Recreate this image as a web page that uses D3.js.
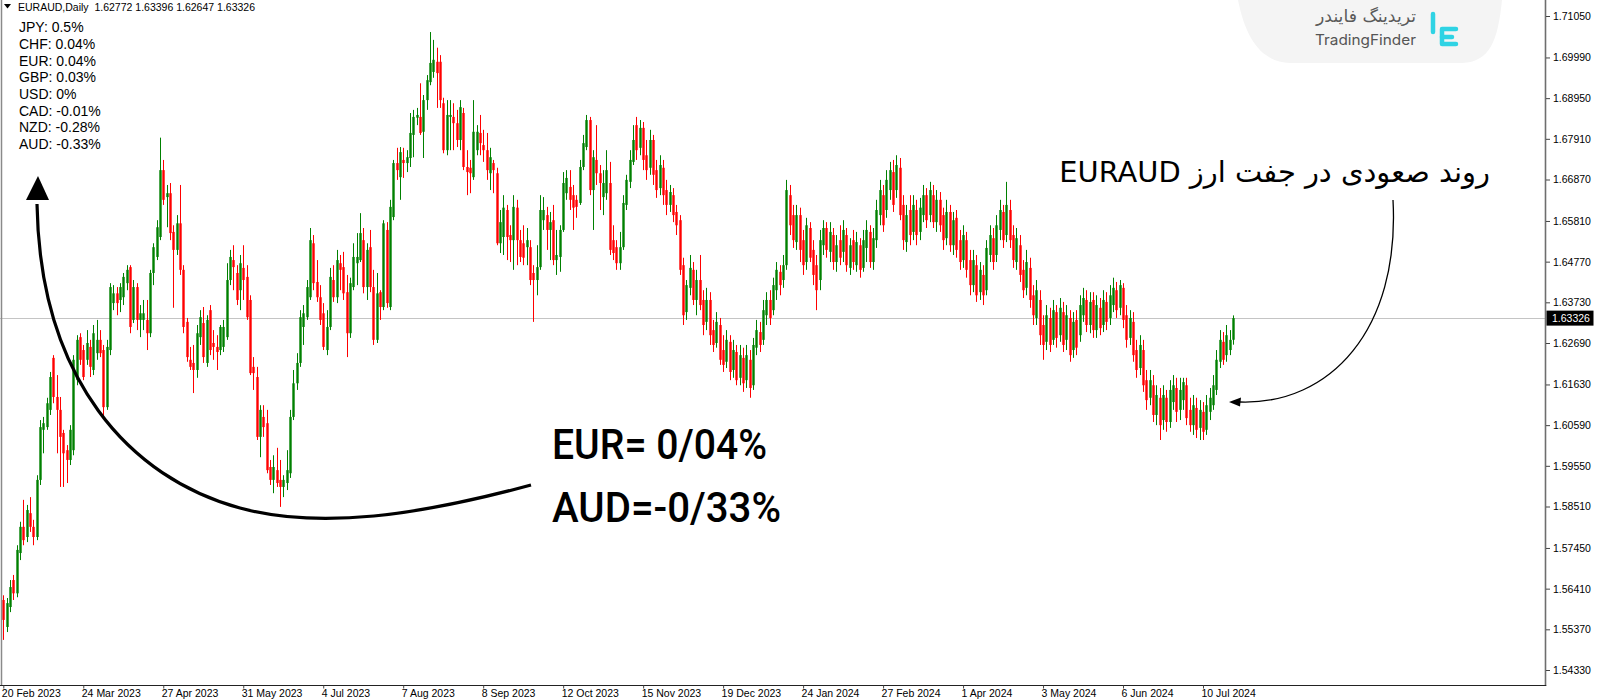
<!DOCTYPE html>
<html><head><meta charset="utf-8">
<script src="https://cdn.jsdelivr.net/npm/d3@7"></script>
<style>body{margin:0;background:#fff}svg{display:block}</style>
</head><body>
<svg id="c" width="1600" height="700"></svg>
<script>
// ---- data (EURAUD daily, 20 Feb 2023 .. Jul 2024) ----
const opens=[
1.5612,1.5543,1.5594,1.5663,1.5629,1.5732,1.5799,1.5773,1.5834,1.5799,
1.5773,1.5919,1.6047,1.6054,1.6098,1.6231,1.6131,1.6098,1.6039,1.5995,
1.5970,1.5995,1.6174,1.6284,1.6251,1.6226,1.6259,1.6200,1.6243,1.6277,
1.6251,1.6105,1.6251,1.6371,1.6396,1.6379,1.6386,1.6422,1.6463,1.6328,
1.6412,1.6328,1.6328,1.6328,1.6294,1.6448,1.6489,1.6540,1.6711,1.6642,
1.6652,1.6553,1.6507,1.6575,1.6456,1.6323,1.6226,1.6218,1.6200,1.6284,
1.6320,1.6218,1.6353,1.6269,1.6259,1.6251,1.6259,1.6284,1.6430,1.6481,
1.6448,1.6404,1.6461,1.6438,1.6379,1.6208,1.6182,1.6029,1.6080,1.6064,
1.5952,1.5919,1.5944,1.5919,1.5901,1.5911,1.5936,1.6080,1.6166,1.6218,
1.6310,1.6335,1.6386,1.6524,1.6425,1.6386,1.6345,1.6251,1.6310,1.6430,
1.6386,1.6473,1.6463,1.6399,1.6294,1.6412,1.6473,1.6481,1.6532,1.6412,
1.6514,1.6412,1.6277,1.6399,1.6361,1.6558,1.6361,1.6591,1.6729,1.6693,
1.6737,1.6729,1.6742,1.6801,1.6845,1.6847,1.6809,1.6890,1.6936,1.6962,
1.6988,1.6988,1.6882,1.6762,1.6847,1.6847,1.6831,1.6788,1.6857,1.6719,
1.6717,1.6693,1.6762,1.6806,1.6775,1.6762,1.6703,1.6729,1.6703,1.6524,
1.6540,1.6609,1.6545,1.6532,1.6615,1.6532,1.6524,1.6514,1.6514,1.6448,
1.6430,1.6463,1.6583,1.6596,1.6558,1.6583,1.6481,1.6489,1.6558,1.6652,
1.6668,1.6647,1.6635,1.6627,1.6719,1.6770,1.6839,1.6660,1.6737,1.6703,
1.6642,1.6652,1.6678,1.6532,1.6514,1.6473,1.6514,1.6622,1.6681,1.6732,
1.6826,1.6768,1.6819,1.6749,1.6717,1.6788,1.6711,1.6665,1.6717,1.6660,
1.6622,1.6647,1.6604,1.6583,1.6468,1.6348,1.6410,1.6456,1.6379,1.6430,
1.6379,1.6323,1.6379,1.6302,1.6269,1.6315,1.6251,1.6221,1.6272,1.6200,
1.6246,1.6180,1.6231,1.6174,1.6226,1.6161,1.6257,1.6297,1.6277,1.6340,
1.6379,1.6353,1.6404,1.6451,1.6430,1.6468,1.6647,1.6596,1.6527,1.6596,
1.6532,1.6476,1.6563,1.6507,1.6468,1.6430,1.6519,1.6563,1.6502,1.6545,
1.6476,1.6532,1.6502,1.6545,1.6461,1.6532,1.6468,1.6519,1.6461,1.6512,
1.6553,1.6476,1.6532,1.6596,1.6647,1.6609,1.6660,1.6706,1.6660,1.6717,
1.6622,1.6527,1.6609,1.6553,1.6609,1.6553,1.6596,1.6647,1.6596,1.6647,
1.6578,1.6635,1.6596,1.6537,1.6604,1.6519,1.6589,1.6532,1.6481,1.6532,
1.6481,1.6417,1.6468,1.6399,1.6443,1.6404,1.6494,1.6537,1.6494,1.6558,
1.6604,1.6545,1.6609,1.6545,1.6476,1.6519,1.6456,1.6410,1.6461,1.6391,
1.6333,1.6379,1.6315,1.6272,1.6333,1.6277,1.6348,1.6289,1.6348,1.6277,
1.6333,1.6251,1.6328,1.6289,1.6340,1.6379,1.6315,1.6379,1.6302,1.6359,
1.6315,1.6374,1.6333,1.6366,1.6404,1.6359,1.6410,1.6340,1.6282,1.6323,
1.6251,1.6205,1.6251,1.6174,1.6129,1.6161,1.6085,1.6129,1.6072,1.6129,
1.6067,1.6118,1.6154,1.6098,1.6123,1.6161,1.6098,1.6059,1.6103,1.6052,
1.6093,1.6047,1.6093,1.6110,1.6149,1.6221,1.6272,1.6238,1.6251,1.62772];
const highs=[
1.5624,1.5617,1.5663,1.5676,1.5752,1.5812,1.5868,1.5855,1.5875,1.5817,
1.5931,1.6072,1.6080,1.6129,1.6195,1.6238,1.6187,1.6131,1.6047,1.6008,
1.6059,1.6238,1.6289,1.6294,1.6264,1.6302,1.6277,1.6315,1.6328,1.6302,
1.6264,1.6277,1.6422,1.6417,1.6412,1.6422,1.6448,1.6468,1.6468,1.6430,
1.6422,1.6366,1.6379,1.6379,1.6456,1.6524,1.6583,1.6794,1.6737,1.6673,
1.6678,1.6570,1.6596,1.6673,1.6468,1.6333,1.6259,1.6264,1.6315,1.6353,
1.6361,1.6340,1.6366,1.6302,1.6289,1.6315,1.6328,1.6473,1.6507,1.6519,
1.6468,1.6494,1.6519,1.6468,1.6391,1.6233,1.6208,1.6110,1.6110,1.6098,
1.5970,1.5982,1.6001,1.5970,1.5931,1.5995,1.6098,1.6200,1.6243,1.6353,
1.6366,1.6430,1.6563,1.6545,1.6481,1.6417,1.6371,1.6353,1.6461,1.6468,
1.6507,1.6494,1.6502,1.6443,1.6436,1.6524,1.6550,1.6601,1.6563,1.6524,
1.6558,1.6456,1.6448,1.6404,1.6583,1.6578,1.6635,1.6737,1.6768,1.6770,
1.6768,1.6762,1.6857,1.6865,1.6870,1.6933,1.6903,1.6954,1.7064,1.7044,
1.7024,1.7005,1.6896,1.6890,1.6890,1.6882,1.6865,1.6890,1.6870,1.6762,
1.6737,1.6890,1.6826,1.6852,1.6814,1.6806,1.6768,1.6737,1.6717,1.6609,
1.6647,1.6622,1.6570,1.6647,1.6635,1.6558,1.6570,1.6563,1.6532,1.6468,
1.6519,1.6647,1.6642,1.6617,1.6604,1.6622,1.6558,1.6570,1.6706,1.6711,
1.6711,1.6673,1.6647,1.6737,1.6801,1.6852,1.6847,1.6762,1.6826,1.6724,
1.6711,1.6762,1.6732,1.6570,1.6532,1.6553,1.6647,1.6699,1.6762,1.6826,
1.6847,1.6839,1.6834,1.6788,1.6814,1.6801,1.6737,1.6749,1.6737,1.6686,
1.6673,1.6665,1.6622,1.6596,1.6487,1.6430,1.6494,1.6476,1.6456,1.6494,
1.6404,1.6410,1.6399,1.6328,1.6348,1.6333,1.6289,1.6302,1.6289,1.6277,
1.6264,1.6264,1.6257,1.6264,1.6251,1.6282,1.6328,1.6323,1.6379,1.6399,
1.6404,1.6436,1.6476,1.6468,1.6494,1.6686,1.6673,1.6622,1.6622,1.6615,
1.6558,1.6589,1.6578,1.6532,1.6494,1.6558,1.6583,1.6578,1.6578,1.6563,
1.6545,1.6570,1.6583,1.6563,1.6537,1.6558,1.6553,1.6537,1.6558,1.6583,
1.6570,1.6563,1.6635,1.6686,1.6673,1.6711,1.6732,1.6737,1.6749,1.6742,
1.6647,1.6622,1.6647,1.6647,1.6635,1.6640,1.6673,1.6665,1.6681,1.6673,
1.6660,1.6655,1.6615,1.6635,1.6622,1.6604,1.6609,1.6558,1.6570,1.6553,
1.6507,1.6507,1.6494,1.6476,1.6468,1.6532,1.6570,1.6563,1.6596,1.6635,
1.6622,1.6681,1.6635,1.6570,1.6563,1.6545,1.6481,1.6507,1.6487,1.6417,
1.6430,1.6404,1.6340,1.6366,1.6359,1.6379,1.6366,1.6384,1.6374,1.6366,
1.6353,1.6348,1.6353,1.6391,1.6410,1.6404,1.6399,1.6399,1.6391,1.6384,
1.6404,1.6399,1.6417,1.6436,1.6425,1.6430,1.6422,1.6366,1.6353,1.6348,
1.6277,1.6289,1.6277,1.6200,1.6200,1.6187,1.6161,1.6154,1.6161,1.6149,
1.6174,1.6187,1.6180,1.6180,1.6180,1.6180,1.6129,1.6136,1.6129,1.6123,
1.6118,1.6136,1.6154,1.6187,1.6251,1.6302,1.6297,1.6315,1.6302,1.63396];
const lows=[
1.5510,1.5530,1.5581,1.5612,1.5619,1.5714,1.5752,1.5760,1.5786,1.5752,
1.5765,1.5906,1.5987,1.6047,1.6085,1.6115,1.5987,1.5901,1.5901,1.5911,
1.5957,1.5982,1.6161,1.6213,1.6174,1.6213,1.6182,1.6187,1.6226,1.6233,
1.6080,1.6098,1.6238,1.6353,1.6340,1.6348,1.6366,1.6404,1.6294,1.6320,
1.6302,1.6284,1.6302,1.6251,1.6284,1.6417,1.6481,1.6532,1.6622,1.6565,
1.6532,1.6359,1.6494,1.6443,1.6294,1.6221,1.6200,1.6141,1.6180,1.6264,
1.6218,1.6208,1.6238,1.6226,1.6200,1.6238,1.6246,1.6277,1.6417,1.6404,
1.6366,1.6353,1.6379,1.6328,1.6187,1.6149,1.6021,1.5977,1.6029,1.5936,
1.5906,1.5885,1.5901,1.5850,1.5875,1.5893,1.5924,1.6072,1.6149,1.6208,
1.6264,1.6328,1.6379,1.6404,1.6374,1.6315,1.6251,1.6238,1.6302,1.6374,
1.6371,1.6404,1.6379,1.6233,1.6282,1.6404,1.6417,1.6476,1.6396,1.6379,
1.6399,1.6264,1.6269,1.6328,1.6353,1.6359,1.6353,1.6583,1.6686,1.6635,
1.6691,1.6706,1.6719,1.6744,1.6826,1.6801,1.6742,1.6865,1.6928,1.6947,
1.6870,1.6870,1.6754,1.6749,1.6762,1.6762,1.6770,1.6762,1.6711,1.6647,
1.6652,1.6686,1.6749,1.6749,1.6732,1.6686,1.6660,1.6652,1.6519,1.6499,
1.6494,1.6481,1.6476,1.6456,1.6468,1.6476,1.6468,1.6468,1.6417,1.6323,
1.6391,1.6456,1.6558,1.6507,1.6481,1.6468,1.6443,1.6451,1.6553,1.6635,
1.6609,1.6558,1.6589,1.6622,1.6711,1.6762,1.6647,1.6558,1.6673,1.6609,
1.6596,1.6635,1.6494,1.6481,1.6456,1.6456,1.6507,1.6609,1.6665,1.6724,
1.6737,1.6749,1.6711,1.6686,1.6699,1.6673,1.6640,1.6647,1.6622,1.6596,
1.6604,1.6578,1.6545,1.6443,1.6315,1.6328,1.6391,1.6366,1.6340,1.6353,
1.6289,1.6302,1.6264,1.6246,1.6257,1.6213,1.6195,1.6205,1.6174,1.6180,
1.6161,1.6161,1.6144,1.6154,1.6129,1.6149,1.6238,1.6246,1.6264,1.6315,
1.6315,1.6340,1.6379,1.6391,1.6410,1.6456,1.6545,1.6512,1.6507,1.6476,
1.6443,1.6456,1.6476,1.6417,1.6353,1.6404,1.6494,1.6487,1.6476,1.6456,
1.6451,1.6468,1.6476,1.6451,1.6443,1.6456,1.6451,1.6436,1.6451,1.6476,
1.6461,1.6456,1.6512,1.6570,1.6553,1.6589,1.6635,1.6604,1.6640,1.6583,
1.6507,1.6502,1.6519,1.6532,1.6519,1.6532,1.6578,1.6563,1.6578,1.6563,
1.6553,1.6553,1.6507,1.6519,1.6502,1.6494,1.6487,1.6456,1.6461,1.6436,
1.6391,1.6399,1.6374,1.6379,1.6366,1.6391,1.6476,1.6456,1.6476,1.6532,
1.6512,1.6527,1.6512,1.6461,1.6456,1.6425,1.6384,1.6391,1.6359,1.6315,
1.6315,1.6264,1.6226,1.6251,1.6246,1.6264,1.6257,1.6272,1.6246,1.6251,
1.6221,1.6231,1.6238,1.6272,1.6323,1.6297,1.6294,1.6282,1.6282,1.6289,
1.6297,1.6302,1.6315,1.6348,1.6333,1.6340,1.6307,1.6257,1.6264,1.6221,
1.6180,1.6187,1.6144,1.6098,1.6110,1.6067,1.6059,1.6021,1.6047,1.6042,
1.6052,1.6098,1.6067,1.6072,1.6098,1.6059,1.6042,1.6034,1.6026,1.6021,
1.6021,1.6034,1.6072,1.6098,1.6136,1.6205,1.6213,1.6221,1.6238,1.62647];
const closes=[
1.5561,1.5604,1.5645,1.5629,1.5740,1.5799,1.5765,1.5842,1.5799,1.5773,
1.5919,1.6054,1.6064,1.6115,1.6182,1.6131,1.6098,1.6029,1.5987,1.5970,
1.6047,1.6226,1.6277,1.6226,1.6182,1.6269,1.6208,1.6294,1.6277,1.6243,
1.6105,1.6259,1.6412,1.6396,1.6371,1.6412,1.6438,1.6456,1.6310,1.6412,
1.6328,1.6345,1.6345,1.6294,1.6448,1.6514,1.6565,1.6711,1.6635,1.6652,
1.6550,1.6507,1.6575,1.6456,1.6310,1.6233,1.6208,1.6200,1.6294,1.6335,
1.6233,1.6328,1.6251,1.6259,1.6246,1.6310,1.6310,1.6430,1.6489,1.6463,
1.6379,1.6473,1.6430,1.6335,1.6192,1.6192,1.6029,1.6098,1.6054,1.5944,
1.5919,1.5952,1.5911,1.5901,1.5919,1.5944,1.6080,1.6166,1.6218,1.6335,
1.6345,1.6412,1.6532,1.6422,1.6386,1.6328,1.6259,1.6310,1.6438,1.6386,
1.6481,1.6456,1.6396,1.6294,1.6422,1.6489,1.6489,1.6550,1.6412,1.6507,
1.6412,1.6277,1.6396,1.6361,1.6575,1.6371,1.6617,1.6729,1.6711,1.6757,
1.6729,1.6744,1.6806,1.6847,1.6852,1.6806,1.6890,1.6941,1.6985,1.6993,
1.6959,1.6890,1.6762,1.6852,1.6852,1.6831,1.6788,1.6872,1.6719,1.6706,
1.6703,1.6809,1.6809,1.6780,1.6762,1.6711,1.6744,1.6711,1.6524,1.6578,
1.6615,1.6540,1.6532,1.6617,1.6532,1.6489,1.6487,1.6532,1.6430,1.6430,
1.6463,1.6609,1.6609,1.6558,1.6578,1.6481,1.6494,1.6558,1.6678,1.6691,
1.6635,1.6615,1.6617,1.6719,1.6780,1.6839,1.6660,1.6744,1.6703,1.6678,
1.6678,1.6711,1.6507,1.6499,1.6473,1.6514,1.6627,1.6686,1.6737,1.6788,
1.6762,1.6819,1.6737,1.6711,1.6788,1.6699,1.6660,1.6724,1.6647,1.6622,
1.6655,1.6596,1.6570,1.6456,1.6340,1.6417,1.6461,1.6379,1.6430,1.6366,
1.6315,1.6379,1.6289,1.6264,1.6323,1.6226,1.6213,1.6277,1.6195,1.6251,
1.6174,1.6238,1.6166,1.6238,1.6154,1.6264,1.6302,1.6264,1.6353,1.6379,
1.6333,1.6417,1.6456,1.6417,1.6468,1.6660,1.6570,1.6532,1.6596,1.6507,
1.6468,1.6570,1.6487,1.6443,1.6404,1.6532,1.6563,1.6507,1.6553,1.6476,
1.6519,1.6487,1.6558,1.6468,1.6519,1.6476,1.6527,1.6456,1.6532,1.6558,
1.6476,1.6537,1.6609,1.6660,1.6570,1.6686,1.6711,1.6622,1.6724,1.6596,
1.6532,1.6596,1.6545,1.6622,1.6545,1.6615,1.6647,1.6583,1.6660,1.6578,
1.6635,1.6570,1.6532,1.6604,1.6519,1.6583,1.6507,1.6476,1.6545,1.6456,
1.6417,1.6481,1.6391,1.6456,1.6391,1.6512,1.6545,1.6476,1.6570,1.6609,
1.6532,1.6622,1.6532,1.6481,1.6537,1.6443,1.6404,1.6476,1.6379,1.6340,
1.6404,1.6289,1.6264,1.6340,1.6264,1.6353,1.6282,1.6359,1.6264,1.6340,
1.6238,1.6323,1.6257,1.6366,1.6384,1.6315,1.6374,1.6302,1.6366,1.6307,
1.6379,1.6323,1.6391,1.6410,1.6353,1.6417,1.6328,1.6277,1.6333,1.6238,
1.6200,1.6264,1.6161,1.6123,1.6174,1.6085,1.6136,1.6059,1.6136,1.6067,
1.6149,1.6161,1.6093,1.6149,1.6169,1.6077,1.6059,1.6110,1.6047,1.6098,
1.6042,1.6110,1.6129,1.6161,1.6226,1.6277,1.6226,1.6289,1.6277,1.63326];

const dateLabels=["20 Feb 2023","24 Mar 2023","27 Apr 2023","31 May 2023","4 Jul 2023","7 Aug 2023","8 Sep 2023","12 Oct 2023","15 Nov 2023","19 Dec 2023","24 Jan 2024","27 Feb 2024","1 Apr 2024","3 May 2024","6 Jun 2024","10 Jul 2024"];
const dateBars=[0,24,48,72,96,120,144,168,192,216,240,264,288,312,336,360];
const priceTicks=[1.71050,1.69990,1.68950,1.67910,1.66870,1.65810,1.64770,1.63730,1.62690,1.61630,1.60590,1.59550,1.58510,1.57450,1.56410,1.55370,1.54330];
const currencies=["JPY","CHF","EUR","GBP","USD","CAD","NZD","AUD"];
const strengths=["0.5%","0.04%","0.04%","0.03%","0%","-0.01%","-0.28%","-0.33%"];
const symbol="EURAUD,Daily";
const lastPrice=1.63326;

// ---- drawing ----
const svg=d3.select("#c");
const plotR=1545.5, plotB=685.5;
const x=d3.scaleLinear().domain([0,369]).range([3.3,1233]);
const y=d3.scaleLinear().domain([1.5433,1.7105]).range([670,16]);
const GREEN="#008000", RED="#ff0000";
const sans="'Liberation Sans', Arial, sans-serif";

// logo background
svg.append("path").attr("d","M1238,0 L1502,0 C1498,40 1490,62 1462,63 L1290,63 C1262,62 1246,40 1238,0 Z")
  .attr("fill","#f4f4f4");

// current price line
svg.append("line").attr("x1",0).attr("x2",plotR).attr("y1",Math.round(y(lastPrice))+0.5).attr("y2",Math.round(y(lastPrice))+0.5)
  .attr("stroke","#c4c4c4").attr("stroke-width",1);

// candles
const bars=d3.range(closes.length).map(i=>({i,o:opens[i],h:Math.max(highs[i],opens[i],closes[i]),l:Math.min(lows[i],opens[i],closes[i]),c:closes[i]}));
const cg=svg.append("g");
cg.selectAll("line").data(bars).join("line")
  .attr("x1",d=>Math.round(x(d.i))+0.5).attr("x2",d=>Math.round(x(d.i))+0.5)
  .attr("y1",d=>y(d.h)).attr("y2",d=>y(d.l))
  .attr("stroke",d=>d.c>=d.o?GREEN:RED).attr("stroke-width",1);
cg.selectAll("rect").data(bars).join("rect")
  .attr("x",d=>Math.round(x(d.i))+0.5-1.2).attr("width",2.4)
  .attr("y",d=>y(Math.max(d.o,d.c))).attr("height",d=>Math.max(1,Math.abs(y(d.o)-y(d.c))))
  .attr("fill",d=>d.c>=d.o?GREEN:RED);

// frame / axes
svg.append("line").attr("x1",1.5).attr("x2",1.5).attr("y1",0).attr("y2",plotB).attr("stroke","#8a8a8a").attr("stroke-width",1.5);
svg.append("line").attr("x1",plotR).attr("x2",plotR).attr("y1",0).attr("y2",plotB).attr("stroke","#6e6e6e").attr("stroke-width",1.6);
svg.append("line").attr("x1",0).attr("x2",plotR+0.8).attr("y1",plotB).attr("y2",plotB).attr("stroke","#222").attr("stroke-width",1.2);

const yAxis=d3.axisRight(y).tickValues(priceTicks).tickFormat(d3.format(".5f")).tickSize(4).tickPadding(3);
const ya=svg.append("g").attr("transform",`translate(${plotR+0.5},0)`).call(yAxis);
ya.select(".domain").remove();
ya.selectAll("text").attr("font-family",sans).attr("font-size","10.5px").attr("fill","#000");
ya.selectAll("line").attr("stroke","#444");

const xAxis=d3.axisBottom(x).tickValues(dateBars).tickFormat((d,k)=>dateLabels[k]).tickSize(3).tickPadding(1);
const xa=svg.append("g").attr("transform",`translate(0,${plotB})`).call(xAxis);
xa.select(".domain").remove();
xa.selectAll("text").attr("font-family",sans).attr("font-size","10.5px").attr("fill","#000").attr("text-anchor","start").attr("dx","-2");
xa.selectAll("line").attr("stroke","#444");

// current price tag
const yc=y(lastPrice);
svg.append("rect").attr("x",plotR+1).attr("y",yc-7.5).attr("width",47).attr("height",15).attr("fill","#000");
svg.append("text").attr("x",plotR+6.5).attr("y",yc+4).attr("font-family",sans).attr("font-size","10.5px").attr("fill","#fff").text(d3.format(".5f")(lastPrice));

// header
svg.append("path").attr("d","M4,4 L11,4 L7.5,8.5 Z").attr("fill","#000");
svg.append("text").attr("x",18).attr("y",10.5).attr("font-family",sans).attr("font-size","10.5px").attr("fill","#000")
  .attr("xml:space","preserve")
  .text(`${symbol}  ${d3.format(".5f")(opens[369])} ${d3.format(".5f")(highs[369])} ${d3.format(".5f")(lows[369])} ${d3.format(".5f")(closes[369])}`);

// currency strength list
svg.append("g").selectAll("text").data(currencies).join("text")
  .attr("x",19).attr("y",(d,k)=>32.3+k*16.67)
  .attr("font-family",sans).attr("font-size","14px").attr("fill","#000")
  .text((d,k)=>`${d}: ${strengths[k]}`);

// big curved arrow
svg.append("path").attr("d","M531,485 C420,515 320,530 240,508 C130,478 40,380 37,204")
  .attr("fill","none").attr("stroke","#000").attr("stroke-width",3.2);
svg.append("path").attr("d","M38,176 L49,200 L26,200 Z").attr("fill","#000");

// annotation texts
svg.append("text").attr("x",552).attr("y",459).attr("font-family","Roboto, sans-serif").attr("font-weight",500)
  .attr("font-size","43px").attr("fill","#000").attr("textLength",215).attr("lengthAdjust","spacingAndGlyphs")
  .attr("xml:space","preserve").text("EUR= 0/04%");
svg.append("text").attr("x",552).attr("y",522).attr("font-family","Roboto, sans-serif").attr("font-weight",500)
  .attr("font-size","43px").attr("fill","#000").attr("textLength",229).attr("lengthAdjust","spacingAndGlyphs")
  .text("AUD=-0/33%");

// persian annotation
const fa=svg.append("text").attr("x",1490).attr("y",182).attr("direction","rtl").attr("text-anchor","start")
  .attr("font-family","'DejaVu Sans', sans-serif").attr("font-size","30px").attr("fill","#000")
  .text("روند صعودی در جفت ارز EURAUD");
const fw=fa.node().getComputedTextLength();
if(fw>0) fa.attr("font-size",(30*431/fw).toFixed(2)+"px");

// thin arrow
svg.append("path").attr("d","M1393,200 C1400,330 1330,405 1240,402")
  .attr("fill","none").attr("stroke","#000").attr("stroke-width",1.3);
svg.append("path").attr("d","M1229,402 L1241,397.5 L1240,406.5 Z").attr("fill","#000");

// logo
const lf=svg.append("text").attr("x",1416).attr("y",22).attr("direction","rtl").attr("text-anchor","start")
  .attr("font-family","'DejaVu Sans', sans-serif").attr("font-size","16px").attr("fill","#5a5a5a").text("تریدینگ فایندر");
const lfw=lf.node().getComputedTextLength();
if(lfw>0) lf.attr("font-size",(16*100/lfw).toFixed(2)+"px");
svg.append("text").attr("x",1315).attr("y",45).attr("font-family","Inter, 'Open Sans', sans-serif").attr("font-size","14.5px")
  .attr("fill","#555").attr("textLength",101).attr("lengthAdjust","spacingAndGlyphs").text("TradingFinder");
const lg=svg.append("g").attr("fill","none").attr("stroke","#2fd3e4").attr("stroke-width",4.5).attr("stroke-linejoin","round").attr("stroke-linecap","round");
lg.append("path").attr("d","M1433,14 L1433,32");
lg.append("path").attr("d","M1456,29 L1442,29 L1442,44 L1456,44");
lg.append("path").attr("d","M1442,37 L1452,37");
</script>
</body></html>
